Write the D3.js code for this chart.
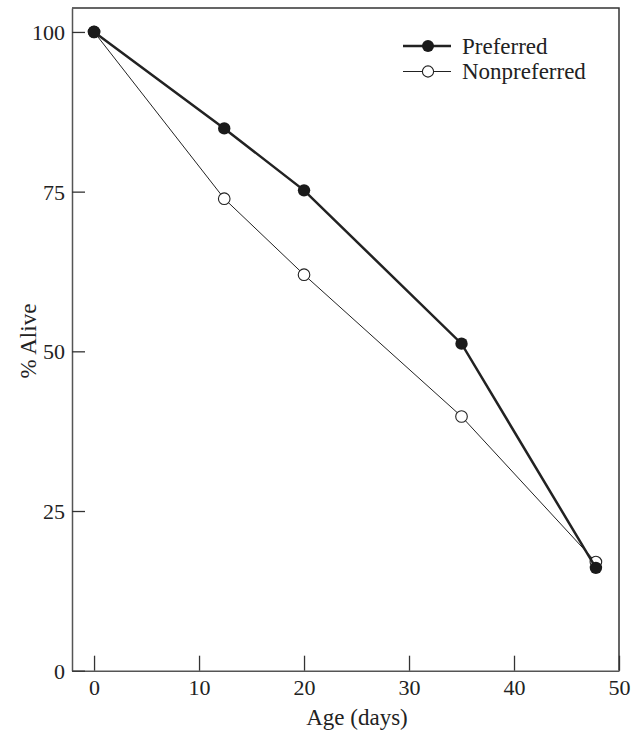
<!DOCTYPE html>
<html>
<head>
<meta charset="utf-8">
<script src="https://cdn.jsdelivr.net/npm/d3@7"></script>
<style>
  body { margin: 0; background: #fff; }
  text { font-family: "Liberation Serif", "DejaVu Serif", serif; fill: #222; }
</style>
</head>
<body>
<script>
// ages at which survival was measured (days)
var ages = [0, 12.4, 20, 35, 47.8];
// % alive for each group
var preferred = [100, 84.9, 75.2, 51.2, 16.1];
var nonpreferred = [100, 73.9, 62.0, 39.8, 17.0];
var xTicks = [0, 10, 20, 30, 40, 50];
var yTicks = [0, 25, 50, 75, 100];

function init() {
    var w = 634;
    var h = 731;

    var svg = d3.select("body")
        .append("svg")
        .attr("width", w)
        .attr("height", h);

    var xScale = d3.scaleLinear()
        .domain([-2.1, 50])
        .range([72, 619]);

    var yScale = d3.scaleLinear()
        .domain([0, 103.75])
        .range([670.7, 8]);

    // frame (top and right sides)
    svg.append("path")
        .attr("d", "M" + xScale(-2.1) + "," + yScale(103.75) + "H" + xScale(50) + "V" + yScale(0))
        .attr("fill", "none")
        .attr("stroke", "#333")
        .attr("stroke-width", 1.5);

    // x axis, ticks pointing inward
    var xAxis = d3.axisBottom(xScale)
        .tickValues(xTicks)
        .tickSizeInner(-15)
        .tickSizeOuter(0)
        .tickPadding(9);

    var gx = svg.append("g")
        .attr("transform", "translate(0," + yScale(0) + ")")
        .call(xAxis);
    gx.selectAll("text").style("font-size", "22px");

    // y axis
    var yAxis = d3.axisLeft(yScale)
        .tickValues(yTicks)
        .tickSizeInner(-13)
        .tickSizeOuter(0)
        .tickPadding(7);

    var gy = svg.append("g")
        .attr("transform", "translate(" + xScale(-2.1) + ",0)")
        .call(yAxis);
    gy.selectAll("text").style("font-size", "22px").attr("dy", "0.34em");

    svg.selectAll(".domain").attr("stroke", "#555").attr("stroke-width", 1.5);
    svg.selectAll(".tick line").attr("stroke", "#333").attr("stroke-width", 1.3);

    // axis titles
    svg.append("text")
        .attr("x", 357)
        .attr("y", 725)
        .attr("text-anchor", "middle")
        .style("font-size", "23px")
        .text("Age (days)");

    svg.append("text")
        .attr("transform", "translate(36," + 341 + ") rotate(-90)")
        .attr("text-anchor", "middle")
        .style("font-size", "23px")
        .text("% Alive");

    var line = d3.line()
        .x(function(d, i) { return xScale(ages[i]); })
        .y(function(d) { return yScale(d); });

    // nonpreferred: thin line, open circles
    svg.append("path")
        .datum(nonpreferred)
        .attr("d", line)
        .attr("fill", "none")
        .attr("stroke", "#222")
        .attr("stroke-width", 1);

    svg.selectAll(".open")
        .data(nonpreferred)
        .enter()
        .append("circle")
        .attr("class", "open")
        .attr("cx", function(d, i) { return xScale(ages[i]); })
        .attr("cy", function(d) { return yScale(d); })
        .attr("r", 5.8)
        .attr("fill", "#fff")
        .attr("stroke", "#222")
        .attr("stroke-width", 1.1);

    // preferred: thick line, filled circles
    svg.append("path")
        .datum(preferred)
        .attr("d", line)
        .attr("fill", "none")
        .attr("stroke", "#222")
        .attr("stroke-width", 2.5);

    svg.selectAll(".filled")
        .data(preferred)
        .enter()
        .append("circle")
        .attr("class", "filled")
        .attr("cx", function(d, i) { return xScale(ages[i]); })
        .attr("cy", function(d) { return yScale(d); })
        .attr("r", 6.2)
        .attr("fill", "#1a1a1a");

    // legend
    var legend = [
        { name: "Preferred", width: 2.5, filled: true },
        { name: "Nonpreferred", width: 1, filled: false }
    ];
    var lg = svg.selectAll(".legend")
        .data(legend)
        .enter()
        .append("g")
        .attr("transform", function(d, i) { return "translate(403," + (46 + i * 25.5) + ")"; });

    lg.append("line")
        .attr("x1", 0).attr("x2", 48)
        .attr("stroke", "#222")
        .attr("stroke-width", function(d) { return d.width; });

    lg.append("circle")
        .attr("cx", 25)
        .attr("r", function(d) { return d.filled ? 6 : 5.6; })
        .attr("fill", function(d) { return d.filled ? "#1a1a1a" : "#fff"; })
        .attr("stroke", function(d) { return d.filled ? "none" : "#222"; })
        .attr("stroke-width", 1.1);

    lg.append("text")
        .attr("x", 59)
        .attr("dy", "0.34em")
        .style("font-size", "23px")
        .text(function(d) { return d.name; });
}

window.onload = init;
</script>
</body>
</html>
